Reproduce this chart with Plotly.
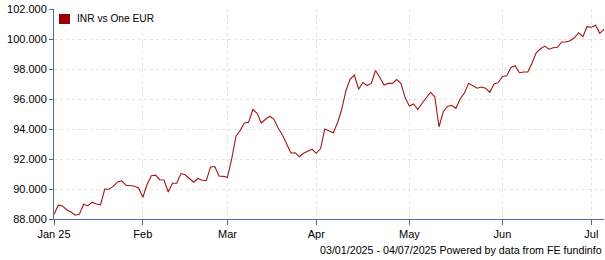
import pandas as pd
import plotly.graph_objects as go

start_date = "2025-01-03"
end_date = "2025-07-04"
series_name = "INR vs One EUR"
inr_per_eur = [
    88.30, 88.92, 88.87, 88.62, 88.47, 88.25, 88.31, 88.98, 88.87, 89.12,
    89.00, 88.95, 90.00, 89.98, 90.17, 90.47, 90.55, 90.25, 90.23, 90.18,
    90.07, 89.45, 90.30, 90.88, 90.92, 90.62, 90.60, 89.80, 90.38, 90.38,
    91.03, 90.95, 90.70, 90.45, 90.70, 90.58, 90.55, 91.47, 91.50, 90.87,
    90.84, 90.78, 92.00, 93.50, 93.90, 94.40, 94.45, 95.30, 95.05, 94.40,
    94.65, 94.85, 94.65, 94.05, 93.60, 93.05, 92.40, 92.42, 92.15, 92.38,
    92.50, 92.65, 92.38, 92.70, 94.00, 93.85, 93.75, 94.40, 95.30, 96.55,
    97.33, 97.60, 96.65, 97.10, 96.90, 97.04, 97.90, 97.45, 96.93, 97.04,
    97.04, 97.30, 97.04, 96.08, 95.53, 95.67, 95.30, 95.72, 96.10, 96.45,
    96.15, 94.15, 95.15, 95.50, 95.58, 95.38, 96.00, 96.40, 97.05, 96.87,
    96.72, 96.80, 96.72, 96.45, 97.00, 97.09, 97.50, 97.55, 98.10, 98.22,
    97.75, 97.80, 97.80, 98.40, 99.10, 99.35, 99.53, 99.32, 99.42, 99.45,
    99.80, 99.80, 99.88, 100.08, 100.42, 100.15, 100.82, 100.78, 100.92, 100.38,
    100.65,
]
tick_dates = ["2025-01-03", "2025-02-03", "2025-03-03", "2025-04-01",
              "2025-05-01", "2025-06-02", "2025-07-01"]
tick_labels = ["Jan 25", "Feb", "Mar", "Apr", "May", "Jun", "Jul"]
y_ticks = [88, 90, 92, 94, 96, 98, 100, 102]
footer = "03/01/2025 - 04/07/2025 Powered by data from FE fundinfo"

dates = pd.bdate_range(start_date, end_date)

font = "Liberation Sans, Arial, sans-serif"
axis_col = "#4d6f9a"
grid_col = "#e3e3e3"
series_col = "#a31515"

fig = go.Figure()
fig.add_trace(go.Scatter(
    x=dates, y=inr_per_eur, mode="lines", name=series_name,
    line=dict(color=series_col, width=1.1), showlegend=False, hoverinfo="skip",
))

fig.update_layout(
    width=605, height=260,
    margin=dict(l=54, r=1, t=9, b=41),
    paper_bgcolor="white", plot_bgcolor="white",
    font=dict(family=font, size=11, color="#000"),
    showlegend=False,
    xaxis=dict(
        type="date", range=[start_date, end_date],
        rangebreaks=[dict(bounds=["sat", "mon"])],
        tickvals=tick_dates, ticktext=tick_labels,
        showline=True, linecolor=axis_col, linewidth=1,
        ticks="outside", ticklen=5, tickcolor=axis_col,
        showgrid=True, gridcolor=grid_col, griddash="dot", gridwidth=1,
        zeroline=False, tickfont=dict(size=11, color="#000"),
    ),
    yaxis=dict(
        range=[88, 102], tickvals=y_ticks, tickformat=".3f",
        showline=True, linecolor=axis_col, linewidth=1,
        ticks="outside", ticklen=4, tickcolor=axis_col,
        showgrid=True, gridcolor=grid_col, griddash="dot", gridwidth=1,
        zeroline=False, tickfont=dict(size=11, color="#000"),
    ),
    shapes=[dict(
        type="rect", xref="paper", yref="paper",
        x0=0.0091, x1=0.0291, y0=0.9286, y1=0.9762,
        fillcolor="#990000", line=dict(width=0),
    )],
    annotations=[
        dict(text=series_name, xref="paper", yref="paper", x=0.0382, y=0.9524,
             xanchor="left", yanchor="middle", showarrow=False,
             font=dict(size=10.2, color="#000")),
        dict(text=footer, xref="paper", yref="paper", x=1, y=-0.148,
             xanchor="right", yanchor="middle", showarrow=False,
             font=dict(size=10.7, color="#000")),
    ],
)

fig.write_html("out.html")
